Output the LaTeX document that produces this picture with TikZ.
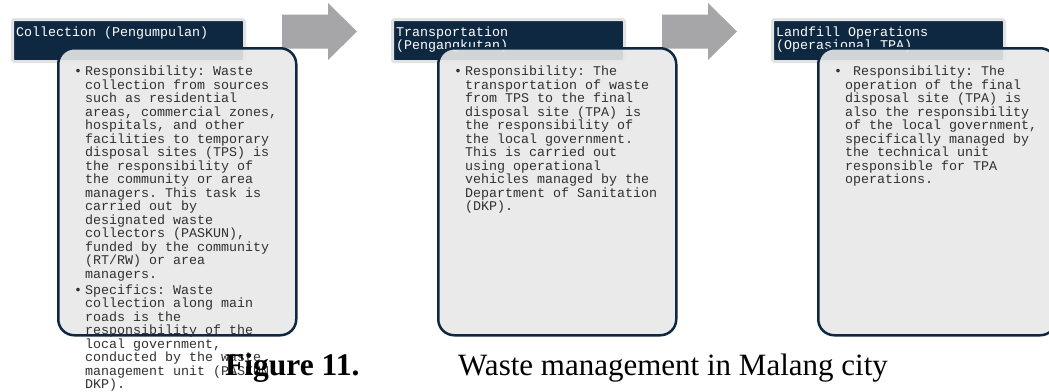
\documentclass[tikz,border=0pt]{standalone}
\usepackage{fontspec}
\setmainfont{Liberation Serif}
\setmonofont{Liberation Mono}
\definecolor{navy}{HTML}{0E2841}
\definecolor{hdrring}{HTML}{E2E2E2}
\definecolor{bodygray}{HTML}{E8E8E8}
\definecolor{arrowgray}{HTML}{A6A6A8}
\definecolor{textgray}{HTML}{303030}
\newcommand{\bul}{\leavevmode\llap{•\hspace{3pt}}}
\begin{document}
\begin{tikzpicture}[x=1pt,y=-1pt,
  hdr/.style={fill=navy, draw=hdrring, line width=3pt, rounded corners=2pt, minimum width=232pt, minimum height=42pt, anchor=north west, inner sep=0pt},
  bodybox/.style={fill=bodygray, fill opacity=0.9, draw=navy, line width=2.5pt, rounded corners=16pt, minimum width=238pt, minimum height=287pt, anchor=north west, inner sep=0pt},
  hdrtext/.style={font=\ttfamily\fontsize{13.33}{12}\selectfont, text=white, anchor=base west, inner sep=0pt},
  bodytext/.style={font=\ttfamily\fontsize{13.33}{13.5}\selectfont, text=textgray, anchor=base west, inner sep=0pt},
  stagearrow/.style={fill=arrowgray}]
\useasboundingbox (0,0) rectangle (1049,391);
% headers
\node[hdr] (h1) at (11,18) {};
\node[hdr] (h2) at (391,18) {};
\node[hdr] (h3) at (771,18) {};
\node[hdrtext] (h1t) at (16,36) {\parbox[t]{220pt}{Collection (Pengumpulan)}};
\node[hdrtext] (h2t) at (396,36) {\parbox[t]{220pt}{Transportation\\(Pengangkutan)}};
\node[hdrtext] (h3t) at (776,36) {\parbox[t]{220pt}{Landfill Operations\\(Operasional TPA)}};
% arrows
\foreach \dx/\nm in {0/a1,380/a2}{
  \coordinate (\nm) at (282+\dx,31.5);
  \fill[stagearrow] (\nm) ++(0,-17) -- ++(46,0) -- ++(0,-11.5) -- ++(29,28.5) -- ++(-29,28.5) -- ++(0,-11.5) -- ++(-46,0) -- cycle;
}
% body boxes
\node[bodybox] (b1) at (57,47) {};
\node[bodybox] (b2) at (437,47) {};
\node[bodybox] (b3) at (817,47) {};
% body texts
\node[bodytext] (t1) at (85,75.5) {\parbox[t]{220pt}{\bul Responsibility: Waste\\
collection from sources\\
such as residential\\
areas, commercial zones,\\
hospitals, and other\\
facilities to temporary\\
disposal sites (TPS) is\\
the responsibility of\\
the community or area\\
managers. This task is\\
carried out by\\
designated waste\\
collectors (PASKUN),\\
funded by the community\\
(RT/RW) or area\\
managers.\\[2.6pt]
\bul Specifics: Waste\\
collection along main\\
roads is the\\
responsibility of the\\
local government,\\
conducted by the waste\\
management unit (PASKUN\\
DKP).}};
\node[bodytext] (t2) at (465,75.5) {\parbox[t]{220pt}{\bul Responsibility: The\\
transportation of waste\\
from TPS to the final\\
disposal site (TPA) is\\
the responsibility of\\
the local government.\\
This is carried out\\
using operational\\
vehicles managed by the\\
Department of Sanitation\\
(DKP).}};
\node[bodytext] (t3) at (845,75.5) {\parbox[t]{220pt}{\bul\ Responsibility: The\\
operation of the final\\
disposal site (TPA) is\\
also the responsibility\\
of the local government,\\
specifically managed by\\
the technical unit\\
responsible for TPA\\
operations.}};
% caption
\node[font=\fontsize{31.5}{31.5}\selectfont\bfseries, anchor=base west, inner sep=0pt] (cap1) at (225,375) {Figure 11.};
\node[font=\fontsize{31}{31}\selectfont, anchor=base west, inner sep=0pt] (cap2) at (458,375) {Waste management in Malang city};
\end{tikzpicture}
\end{document}
